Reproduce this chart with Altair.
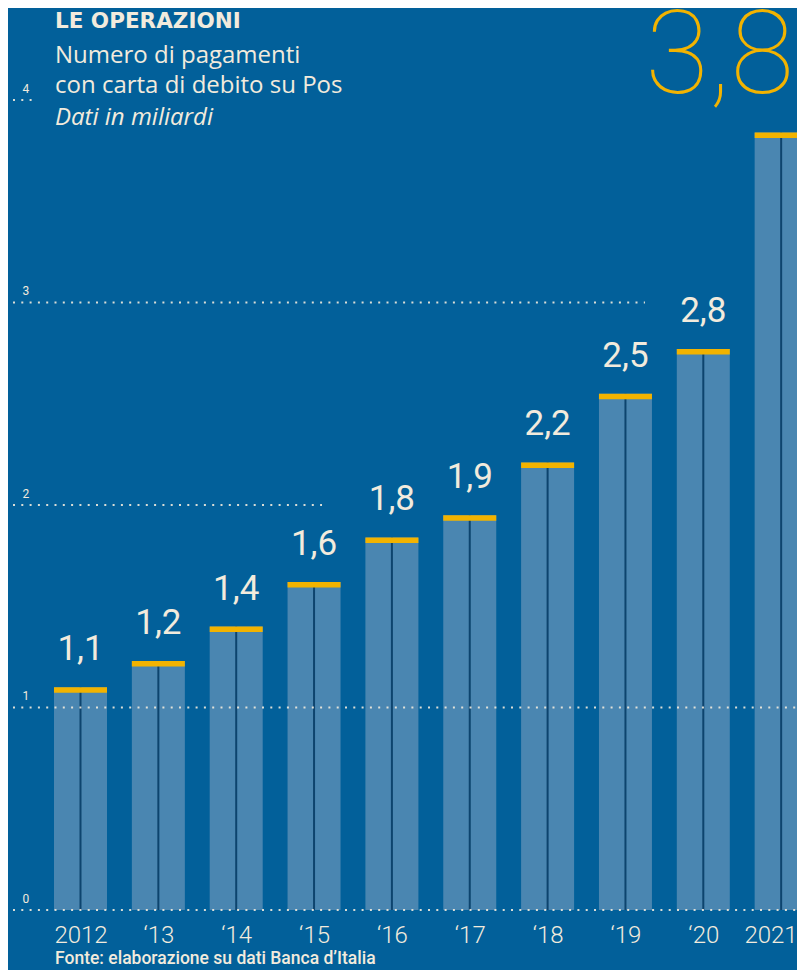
import altair as alt
import pandas as pd

years = [2012, 2013, 2014, 2015, 2016, 2017, 2018, 2019, 2020, 2021]
values = [1.10, 1.23, 1.40, 1.62, 1.84, 1.95, 2.21, 2.55, 2.77, 3.84]
value_labels = ["1,1", "1,2", "1,4", "1,6", "1,8", "1,9", "2,2", "2,5", "2,8", "3,8"]
x_labels = ["2012", "\u201813", "\u201814", "\u201815", "\u201816", "\u201817",
            "\u201818", "\u201819", "\u201820", "2021"]
y_ticks = [0, 1, 2, 3, 4]

title_lines = ["LE OPERAZIONI", "Numero di pagamenti", "con carta di debito su Pos", "Dati in miliardi"]
source = "Fonte: elaborazione su dati Banca d\u2019Italia"

BG = "#02609a"
BAR = "#4a86b1"
CAP = "#f2b300"
TXT = "#f2ebdd"
MID = "#0d446e"

PW, PH = 784, 902

df = pd.DataFrame({"year": years, "value": values, "label": value_labels})

xs = alt.Scale(domain=[2011.1329, 2011.1329 + PW / 77.85], nice=False, zero=False, padding=0)
ys = alt.Scale(domain=[0, PH / 202.5], nice=False, padding=0)

label_expr = "[" + ",".join("'" + s + "'" for s in x_labels) + "][datum.value - 2012]"

base = alt.Chart(df)

bars = base.mark_bar(size=53, color=BAR).encode(
    x=alt.X("year:Q", scale=xs,
            axis=alt.Axis(values=years, labelExpr=label_expr, grid=False, domain=False,
                          ticks=False, tickSize=0, labelPadding=32, labelBaseline="alphabetic",
                          labelFont="Roboto", labelFontWeight=300, labelFontSize=24,
                          labelColor=TXT, title=None, labelFlush=20, labelFlushOffset=16)),
    y=alt.Y("value:Q", scale=ys,
            axis=alt.Axis(values=y_ticks, format="d", grid=False, domain=False, ticks=False,
                          tickSize=0, labelAlign="left", labelPadding=-9,
                          labelBaseline="alphabetic", labelOffset=-8, labelFont="Roboto",
                          labelFontSize=12, labelColor=TXT, title=None)),
)

mid = base.mark_rule(color=MID, strokeWidth=2).encode(
    x="year:Q", y=alt.Y("value:Q"), y2=alt.datum(0)
)

caps = base.mark_tick(color=CAP, thickness=5.5, size=53, orient="horizontal",
                      yOffset=2.75, opacity=1).encode(x="year:Q", y="value:Q")

labels = base.transform_filter("datum.year < 2021").mark_text(
    font="Roboto", fontSize=35, fontWeight=400, color=TXT, baseline="alphabetic", dy=-27
).encode(x="year:Q", y="value:Q", text="label:N")

grid_ends = [PW, PW, 309, 632, 20]
grids = []
for g, e in zip(y_ticks, grid_ends):
    grids.append(
        alt.Chart(pd.DataFrame({"g": [g]})).mark_rule(
            color=TXT, strokeWidth=2, strokeDash=[2, 6.3], opacity=0.9
        ).encode(y=alt.Y("g:Q", scale=ys), x=alt.value(0), x2=alt.value(e))
    )

big = alt.Chart(pd.DataFrame({"t": [value_labels[-1]]})).mark_text(
    font="Roboto", fontSize=116, fontWeight=100, color=CAP, align="right", baseline="alphabetic"
).encode(x=alt.value(PW - 3), y=alt.value(85), text="t:N")

title_styles = [
    dict(font="DejaVu Sans", fontSize=21.5, fontWeight="bold", fontStyle="normal", y=20),
    dict(font="Open Sans", fontSize=24, fontWeight="normal", fontStyle="normal", y=55),
    dict(font="Open Sans", fontSize=24, fontWeight="normal", fontStyle="normal", y=85),
    dict(font="Open Sans", fontSize=24, fontWeight="normal", fontStyle="italic", y=117),
]
titles = []
for line, st in zip(title_lines, title_styles):
    titles.append(
        alt.Chart(pd.DataFrame({"t": [line]})).mark_text(
            font=st["font"], fontSize=st["fontSize"], fontWeight=st["fontWeight"],
            fontStyle=st["fontStyle"], color=TXT, align="left", baseline="alphabetic"
        ).encode(x=alt.value(42), y=alt.value(st["y"]), text="t:N")
    )

src = alt.Chart(pd.DataFrame({"t": [source]})).mark_text(
    font="Roboto", fontSize=17.5, fontWeight=500, color=TXT, align="left", baseline="alphabetic"
).encode(x=alt.value(42), y=alt.value(956), text="t:N")

chart = alt.layer(bars, mid, caps, *grids, labels, big, *titles, src).properties(
    width=PW, height=PH,
    background=BG,
    autosize=alt.AutoSizeParams(type="none"),
    padding={"left": 5, "top": 0, "right": 0, "bottom": 60},
).configure_view(stroke=None)

chart.save("out.html", embed_options={"renderer": "svg", "actions": False})
